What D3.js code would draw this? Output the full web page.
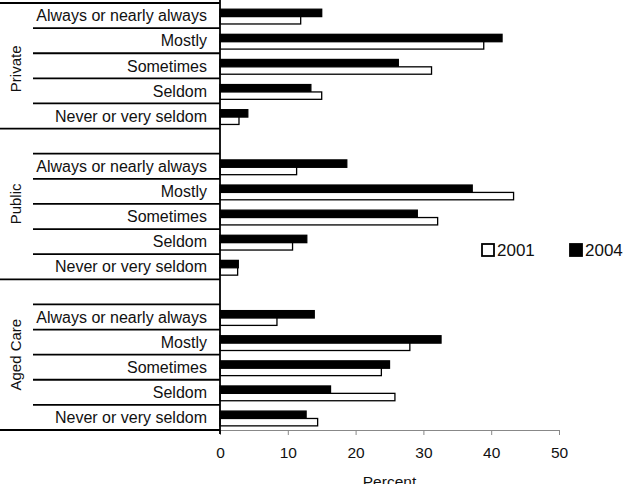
<!DOCTYPE html>
<meta charset="utf-8">
<style>
body { margin: 0; background: #fff; }
text { font-family: "Liberation Sans", Arial, sans-serif; }
</style>
<body>
<svg width="633" height="484" id="chart"></svg>
<script src="https://d3js.org/d3.v7.min.js"></script>
<script>
// data
var groups = ["Private", "Public", "Aged Care"];
var answers = ["Always or nearly always", "Mostly", "Sometimes", "Seldom", "Never or very seldom"];
var years = ["2004", "2001"];
var private2001 = [11.9, 38.9, 31.2, 15.0, 2.8];
var private2004 = [15.0, 41.6, 26.3, 13.4, 4.1];
var public2001 = [11.3, 43.3, 32.1, 10.7, 2.6];
var public2004 = [18.7, 37.2, 29.1, 12.8, 2.7];
var aged2001 = [8.4, 28.0, 23.8, 25.8, 14.4];
var aged2004 = [13.9, 32.6, 25.0, 16.3, 12.7];
var xTicks = [0, 10, 20, 30, 40, 50];

var values = {
  "Private": {"2001": private2001, "2004": private2004},
  "Public": {"2001": public2001, "2004": public2004},
  "Aged Care": {"2001": aged2001, "2004": aged2004}
};

// one slot per answer, plus an empty slot before each group after the first
var slots = [];
groups.forEach(function(g, gi) {
  if (gi > 0) slots.push(g + "|blank");
  answers.forEach(function(a) { slots.push(g + "|" + a); });
});

var rows = [];
groups.forEach(function(g) {
  answers.forEach(function(a, i) {
    years.forEach(function(yr) {
      rows.push({group: g, answer: a, year: yr, value: values[g][yr][i]});
    });
  });
});

var svg = d3.select("#chart");
var axisX = 220, plotTop = 3, plotBottom = 430;

var x = d3.scaleLinear().domain([0, 50]).range([axisX, 559]);
var y = d3.scaleBand().domain(slots).range([plotTop, plotBottom]).padding(0);
var inner = d3.scaleBand().domain(years).range([0, y.bandwidth()])
  .paddingInner(0).paddingOuter(0.7).align(0.6);

// x axis
var xAxis = svg.append("g")
  .attr("transform", "translate(0," + plotBottom + ")")
  .call(d3.axisBottom(x).tickValues(xTicks).tickSize(5).tickPadding(12));
xAxis.select(".domain").attr("stroke", "#888");
xAxis.selectAll(".tick line").attr("stroke", "#888");
xAxis.selectAll("text").style("font-size", "15.5px").attr("fill", "#111");

svg.append("text")
  .attr("x", (x(0) + x(50)) / 2)
  .attr("y", 487)
  .attr("text-anchor", "middle")
  .style("font-size", "15.5px")
  .attr("fill", "#111")
  .text("Percent");

// bars
svg.append("g").selectAll("rect")
  .data(rows)
  .enter().append("rect")
    .attr("x", x(0))
    .attr("y", function(d) { return y(d.group + "|" + d.answer) + inner(d.year); })
    .attr("width", function(d) { return x(d.value) - x(0); })
    .attr("height", inner.bandwidth())
    .attr("fill", function(d) { return d.year == "2004" ? "#000" : "#fff"; })
    .attr("stroke", "#000")
    .attr("stroke-width", 1.3);

// category labels
svg.append("g").selectAll("text")
  .data(rows.filter(function(d) { return d.year == "2004"; }))
  .enter().append("text")
    .attr("x", 207)
    .attr("y", function(d) { return y(d.group + "|" + d.answer) + y.bandwidth() / 2; })
    .attr("dy", "0.36em")
    .attr("text-anchor", "end")
    .style("font-size", "16px")
    .attr("fill", "#111")
    .text(function(d) { return d.answer; });

// separators between answers
groups.forEach(function(g, gi) {
  answers.forEach(function(a, i) {
    var yy = y(g + "|" + a);
    svg.append("line")
      .attr("x1", (i == 0 && gi == 0) ? 0 : 33).attr("x2", axisX)
      .attr("y1", yy).attr("y2", yy)
      .attr("stroke", "#000").attr("stroke-width", 1.8);
  });
  var last = y(g + "|" + answers[answers.length - 1]) + y.bandwidth();
  svg.append("line")
    .attr("x1", 0).attr("x2", axisX)
    .attr("y1", last).attr("y2", last)
    .attr("stroke", "#000").attr("stroke-width", 1.8);

  var first = gi == 0 ? y(g + "|" + answers[0]) + 6 : y(g + "|blank");
  var cy = (first + last) / 2;
  svg.append("text")
    .attr("transform", "translate(21," + cy + ") rotate(-90)")
    .attr("text-anchor", "middle")
    .style("font-size", "15px")
    .attr("fill", "#111")
    .text(g);
});

// vertical axis line
svg.append("line")
  .attr("x1", axisX).attr("x2", axisX)
  .attr("y1", 0).attr("y2", plotBottom + 4)
  .attr("stroke", "#000").attr("stroke-width", 1.8);

// legend
var legend = svg.append("g").selectAll("g")
  .data(["2001", "2004"])
  .enter().append("g")
    .attr("transform", function(d, i) { return "translate(" + (482 + i * 88) + ",244)"; });
legend.append("rect")
  .attr("width", 12).attr("height", 12)
  .attr("fill", function(d) { return d == "2004" ? "#000" : "#fff"; })
  .attr("stroke", "#000").attr("stroke-width", 1.8);
legend.append("text")
  .attr("x", 15).attr("y", 6).attr("dy", "0.36em")
  .style("font-size", "17px")
  .attr("fill", "#111")
  .text(function(d) { return d; });
</script>
</body>
